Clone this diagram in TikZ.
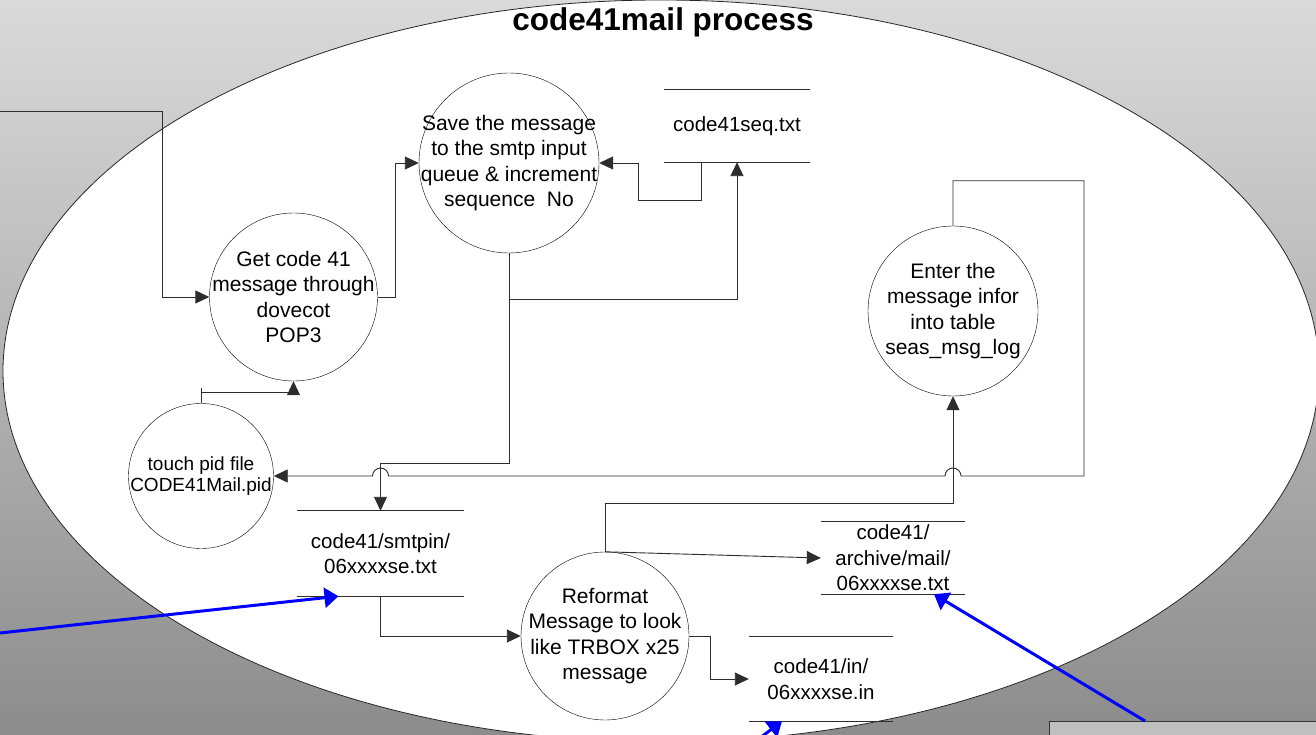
\documentclass[tikz,border=0pt]{standalone}
\usepackage{fontspec}
\setmainfont{Liberation Sans}
\usepackage{tikz}
\usetikzlibrary{arrows.meta}
\definecolor{bgtop}{RGB}{218,218,218}
\definecolor{bgbot}{RGB}{140,140,140}
\definecolor{linegray}{RGB}{45,45,45}
\tikzstyle{process}=[draw, circle, inner sep=-30pt, align=center,
    font=\fontsize{21}{25.5}\selectfont]
\tikzstyle{datastore}=[rectangle, inner sep=0pt, minimum width=144pt,
    align=center, font=\fontsize{20.5}{25.5}\selectfont]
\tikzstyle{storeline}=[draw=linegray, line width=0.9pt]
\tikzstyle{dataflow}=[draw=linegray, line width=0.9pt,
    -{Triangle[length=14pt,width=13pt]}]
\tikzstyle{pointer}=[draw=blue, line width=3pt,
    -{Triangle[length=14pt,width=20pt]}]
\tikzstyle{notebox}=[draw=black!80, fill=gray!50, inner sep=0pt,
    minimum width=300pt, minimum height=40pt]

\begin{document}
\begin{tikzpicture}[x=1pt,y=-1pt]
\useasboundingbox (0,0) rectangle (1316,735);
\clip (0,0) rectangle (1316,735);
% background
\shade[top color=bgtop, bottom color=bgbot] (0,0) rectangle (1316,735);
\draw[fill=white, draw=black!85, line width=0.8pt] (661,371) ellipse [x radius=658pt, y radius=371pt];
\node[font=\bfseries\fontsize{31.5}{36}\selectfont] (title) at (663,22) {code41mail process};
% processes
\path (293.5,297) node [process, minimum size=168pt] (get) {Get code 41\\message through\\dovecot\\POP3};
\path (509,163) node [process, minimum size=180pt] (save) {Save the message\\to the smtp input\\queue \& increment\\sequence\ \ No};
\path (201,476) node [process, minimum size=145pt, font=\fontsize{19}{20.5}\selectfont] (touch) {touch pid file\\CODE41Mail.pid};
\path (953,311) node [process, minimum size=170pt] (enter) {Enter the\\message infor\\into table\\seas\_msg\_log};
\path (605,636) node [process, minimum size=168pt] (reformat) {Reformat\\Message to look\\like TRBOX x25\\message};
% data stores
\path (737,126) node [datastore, minimum width=146pt, minimum height=72pt] (seq) {code41seq.txt};
\path (380.5,553.5) node [datastore, minimum width=167pt, minimum height=85pt] (smtpin) {code41/smtpin/\\06xxxxse.txt};
\path (893,558) node [datastore, minimum height=72pt] (archive) {code41/\\archive/mail/\\06xxxxse.txt};
\path (821,679) node [datastore, minimum height=84pt] (in) {code41/in/\\06xxxxse.in};
\foreach \s in {seq,smtpin,archive,in}
  \draw[storeline] (\s.north west) -- (\s.north east) (\s.south west) -- (\s.south east);
% memo box (cut off)
\path (1049,721) node [notebox, anchor=north west] (memo) {};
% arrows
\coordinate (src) at (0,111);
\draw[dataflow] (src) -- (162,111) |- (get.west);
\draw[dataflow] (get.east) -- ++(17.5,0) |- (save.west);
\draw[dataflow] ([xshift=-36pt]seq.south) -- ++(0,38) -| ([xshift=39pt]save.east) -- (save.east);
\draw[dataflow] (save.south) -- ++(0,46) -| (seq.south);
\draw[dataflow] (save.south) -- ++(0,210) -| (smtpin.north);
\draw[dataflow] (enter.north) -- ++(0,-45) -- ++(131,0) |- (961,476)
  arc[start angle=0, end angle=180, radius=8pt] -- (388.5,476)
  arc[start angle=0, end angle=180, radius=8pt] -- (touch.east);
\draw[dataflow] (reformat.north) -- ++(0,-48) -| (enter.south);
\draw[dataflow] (reformat.north) -- (archive.west);
\draw[dataflow] (reformat.east) -- ++(21,0) |- (in.west);
\draw[dataflow] (smtpin.south) |- (reformat.west);
\draw[storeline] (touch.north) -- ++(0,-15);
\draw[dataflow] (touch.north) -- ++(0,-11) -| (get.south);
% blue pointers
\coordinate (b1) at (0,633);
\coordinate (b3) at (748,747);
\draw[pointer] (b1) -- ([xshift=-42pt]smtpin.south);
\draw[pointer] ([xshift=96pt]memo.north west) -- ([xshift=41pt]archive.south);
\draw[pointer] (b3) -- ([xshift=-39pt]in.south);
\end{tikzpicture}
\end{document}
